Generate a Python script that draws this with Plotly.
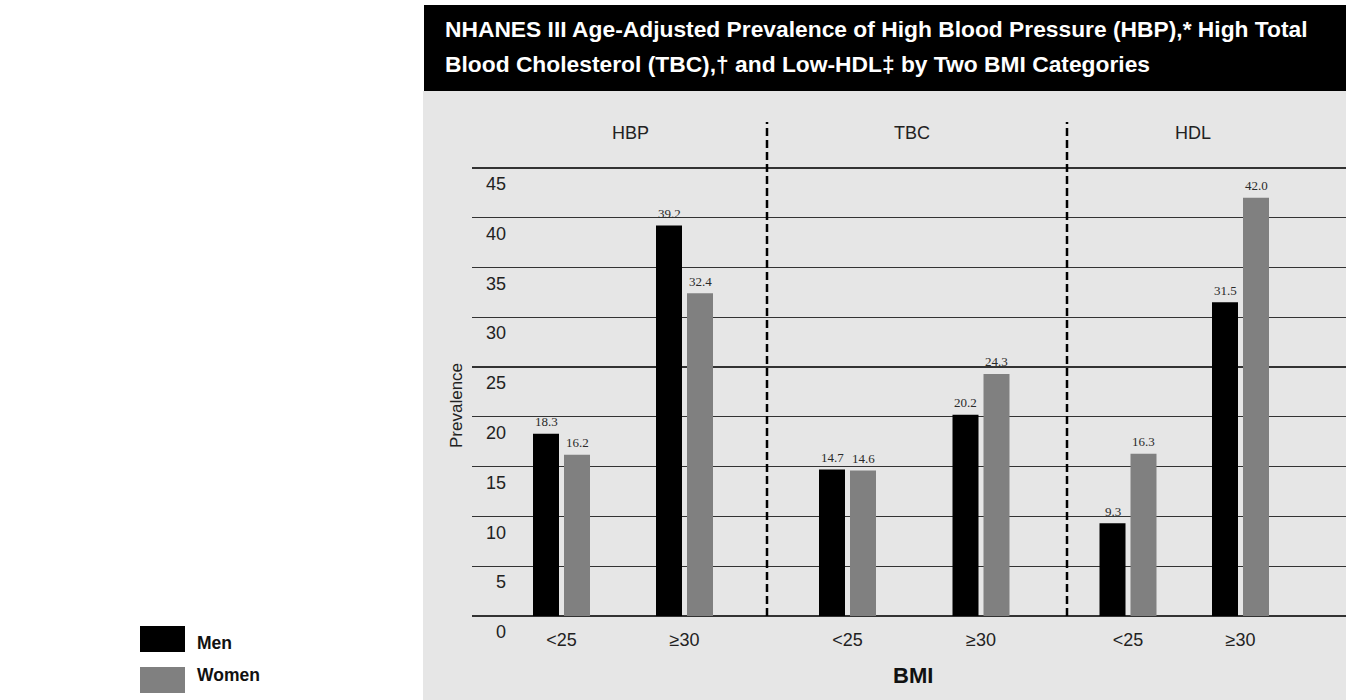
import plotly.graph_objects as go

# ---------------- data ----------------
groups = ["HBP", "TBC", "HDL"]
bmi_categories = ["<25", "≥30"]
men_values = [18.3, 39.2, 14.7, 20.2, 9.3, 31.5]
women_values = [16.2, 32.4, 14.6, 24.3, 16.3, 42.0]
y_ticks = [0, 5, 10, 15, 20, 25, 30, 35, 40, 45]
series_names = ["Men", "Women"]
title_lines = [
    "NHANES III Age-Adjusted Prevalence of High Blood Pressure (HBP),* High Total",
    "Blood Cholesterol (TBC),† and Low-HDL‡ by Two BMI Categories",
]

# ---------------- layout geometry (pixels) ----------------
W, H = 1346, 700
BASE_PX = 616          # pixel row of value 0
PPV = 9.96             # pixels per unit of prevalence
panel_px = [(472, 767), (767, 1067), (1067, 1346)]
center_px = [(561.5, 684.5), (847.5, 981.0), (1128.0, 1240.5)]
group_label_px = [630, 912, 1193]
BAR_W = 26
BAR_GAP = 5
LABEL_SHIFT = 1.6      # tick labels sit below their gridlines

FONT = "Liberation Sans, Arial, sans-serif"
SERIF = "Liberation Serif, Times New Roman, serif"
BLACK = "#000000"
GREY = "#808080"
PANEL_BG = "#e6e6e6"
GRID = "#333333"


def fx(px):
    return px / W


def fy(py):
    return 1 - py / H


def val(py):
    return (BASE_PX - py) / PPV


fig = go.Figure()

layout_axes = {}
annotations = []
for i, g in enumerate(groups):
    left, right = panel_px[i]
    c0, c1 = center_px[i]
    ppu = c1 - c0
    xname = "x" if i == 0 else f"x{i + 1}"
    axkey = "xaxis" if i == 0 else f"xaxis{i + 1}"
    for s, (name, vals, color) in enumerate(
        [("Men", men_values, BLACK), ("Women", women_values, GREY)]
    ):
        yv = vals[2 * i: 2 * i + 2]
        off = (-(BAR_W + BAR_GAP / 2) if s == 0 else BAR_GAP / 2) / ppu
        fig.add_trace(
            go.Bar(
                x=bmi_categories,
                y=yv,
                name=name,
                xaxis=xname,
                yaxis="y",
                width=BAR_W / ppu,
                offset=off,
                marker=dict(color=color, line=dict(width=0)),
                showlegend=False,
                hoverinfo="skip",
            )
        )
        # value labels above bars
        shift = (-(BAR_W + BAR_GAP) / 2) if s == 0 else ((BAR_W + BAR_GAP) / 2)
        for cat, v in zip(bmi_categories, yv):
            annotations.append(dict(
                text=f"{v:.1f}", xref=xname, yref="y", x=cat, y=v,
                xshift=shift, yshift=12, xanchor="center", yanchor="middle",
                showarrow=False,
                font=dict(family=SERIF, size=13, color="#2a2a2a"),
            ))
    layout_axes[axkey] = dict(
        domain=[fx(left), fx(right)],
        anchor="free",
        position=fy(BASE_PX),
        type="category",
        categoryorder="array",
        categoryarray=bmi_categories,
        range=[-(c0 - left) / ppu, (right - c0) / ppu],
        showgrid=False,
        zeroline=False,
        showline=False,
        ticks="",
        ticklabelstandoff=11,
        tickfont=dict(family=FONT, size=18, color="#222222"),
        fixedrange=True,
    )

# helper trace so the label axis is drawn
fig.add_trace(go.Scatter(x=[], y=[], xaxis="x", yaxis="y2", showlegend=False, hoverinfo="skip"))

y_range = [val(H), val(0)]
fig.update_layout(
    width=W,
    height=H,
    margin=dict(l=0, r=0, t=0, b=0),
    paper_bgcolor="white",
    plot_bgcolor="rgba(0,0,0,0)",
    barmode="overlay",
    showlegend=False,
    yaxis=dict(
        domain=[0, 1],
        anchor="x",
        range=y_range,
        tickvals=y_ticks,
        showticklabels=False,
        showgrid=True,
        gridcolor=GRID,
        gridwidth=1.4,
        zeroline=True,
        zerolinecolor=GRID,
        zerolinewidth=1.4,
        showline=False,
        ticks="",
        fixedrange=True,
    ),
    yaxis2=dict(
        overlaying="y",
        anchor="free",
        position=fx(506),
        side="left",
        range=[y_range[0] + LABEL_SHIFT, y_range[1] + LABEL_SHIFT],
        tickvals=y_ticks,
        showgrid=False,
        zeroline=False,
        showline=False,
        ticks="",
        ticklabelstandoff=0,
        tickfont=dict(family=FONT, size=18, color="#222222"),
        fixedrange=True,
    ),
    **layout_axes,
)

shapes = [
    # grey panel
    dict(type="rect", xref="paper", yref="paper", x0=fx(423), x1=fx(W), y0=fy(91), y1=fy(H),
         fillcolor=PANEL_BG, line=dict(width=0), layer="below"),
    # black title bar
    dict(type="rect", xref="paper", yref="paper", x0=fx(424), x1=fx(W), y0=fy(5), y1=fy(91),
         fillcolor=BLACK, line=dict(width=0), layer="below"),
]
# dashed separators between groups
for xb in (panel_px[1][0], panel_px[2][0]):
    shapes.append(dict(type="line", xref="paper", yref="y", x0=fx(xb), x1=fx(xb),
                       y0=0, y1=val(122), line=dict(color=BLACK, width=2.5, dash="8px,4px"),
                       layer="above"))
# legend swatches
for (y0p, y1p), color in zip([(626, 652), (667, 693)], [BLACK, GREY]):
    shapes.append(dict(type="rect", xref="paper", yref="paper", x0=fx(140), x1=fx(185),
                       y0=fy(y1p), y1=fy(y0p), fillcolor=color, line=dict(width=0)))

for line, yc in zip(title_lines, (29, 64)):
    annotations.append(dict(text=line, xref="paper", yref="paper", x=fx(443), y=fy(yc),
                            xanchor="left", yanchor="middle", showarrow=False,
                            font=dict(family=FONT, size=22.8, color="white", weight="bold")))
for g, xc in zip(groups, group_label_px):
    annotations.append(dict(text=g, xref="paper", yref="paper", x=fx(xc), y=fy(133),
                            xanchor="center", yanchor="middle", showarrow=False,
                            font=dict(family=FONT, size=18, color="#222222")))
annotations.append(dict(text="Prevalence", xref="paper", yref="paper", x=fx(456), y=fy(406),
                        xanchor="center", yanchor="middle", textangle=-90, showarrow=False,
                        font=dict(family=FONT, size=17, color="#222222")))
annotations.append(dict(text="<b>BMI</b>", xref="paper", yref="paper", x=fx(913), y=fy(675),
                        xanchor="center", yanchor="middle", showarrow=False,
                        font=dict(family=FONT, size=22, color="#111111")))
for name, yc in zip(series_names, (643, 675)):
    annotations.append(dict(text=f"<b>{name}</b>", xref="paper", yref="paper", x=fx(195), y=fy(yc),
                            xanchor="left", yanchor="middle", showarrow=False,
                            font=dict(family=FONT, size=17.5, color="#111111")))

fig.update_layout(shapes=shapes, annotations=annotations)
fig.write_html(
    "out.html",
    config={"displayModeBar": False, "staticPlot": True},
    post_script="document.body.style.margin='0';document.body.style.overflow='hidden';",
)
